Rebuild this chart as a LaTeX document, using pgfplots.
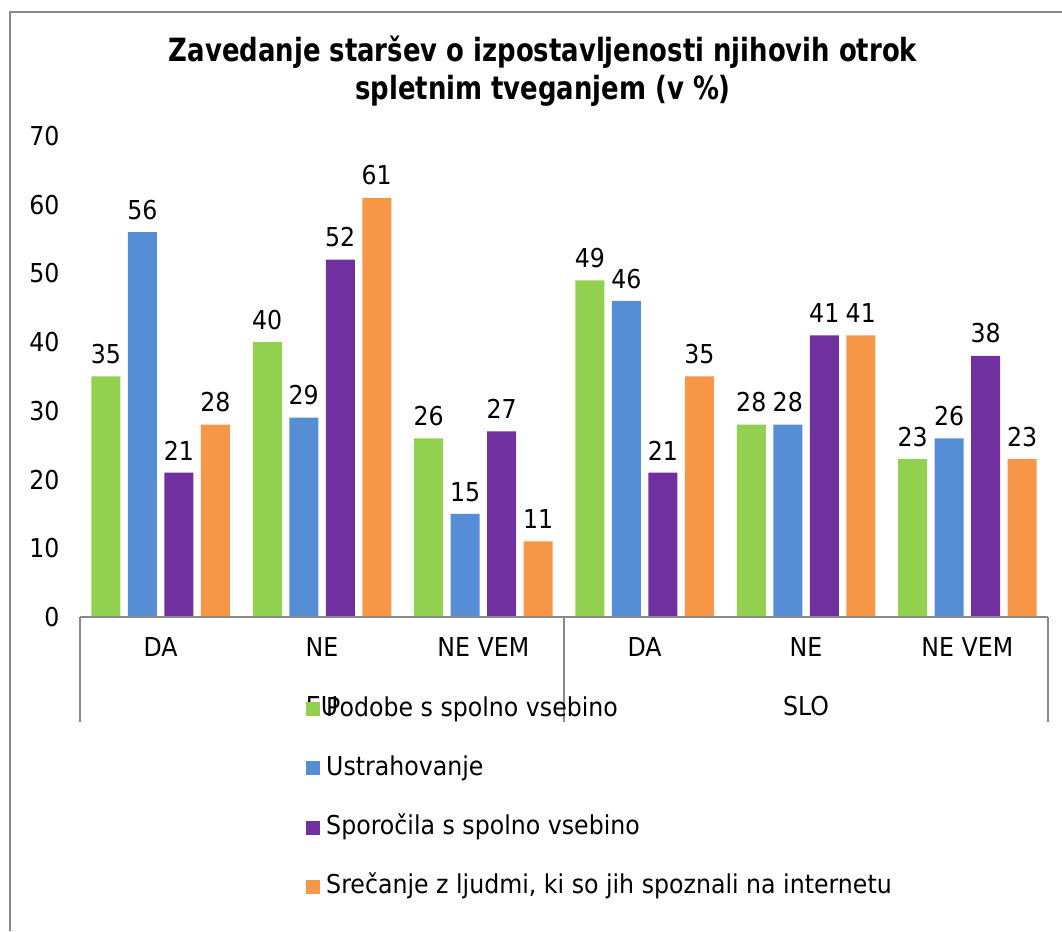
\documentclass[border=0pt]{standalone}
\usepackage{fontspec}
\setmainfont{DejaVu Sans}[FakeStretch=0.91]
\newfontfamily\titlefont{DejaVu Sans}[FakeStretch=0.81]
\usepackage{pgfplots}
\pgfplotsset{compat=1.18}
\definecolor{cgreen}{HTML}{92D050}
\definecolor{cblue}{HTML}{558ED5}
\definecolor{cpurple}{HTML}{7030A0}
\definecolor{corange}{HTML}{F79646}
\definecolor{axgray}{HTML}{898989}
\newcommand{\lf}{\fontsize{26}{31}\selectfont}
\begin{document}
\begin{tikzpicture}[x=1pt,y=1pt]
\useasboundingbox (0,0) rectangle (1062,931);
\draw[axgray, line width=1.3pt] (10,0) -- (10,919) -- (1062,919);
\node[anchor=base, font=\titlefont\fontsize{32}{38}\selectfont\bfseries, inner sep=0pt] at (543,869) {Zavedanje staršev o izpostavljenosti njihovih otrok};
\node[anchor=base, font=\titlefont\fontsize{32}{38}\selectfont\bfseries, inner sep=0pt] at (543,831) {spletnim tveganjem (v \%)};
\begin{axis}[
  at={(80pt,314pt)}, anchor=south west,
  scale only axis, width=968pt, height=481pt,
  xmin=-0.5, xmax=5.5, ymin=0, ymax=70,
  ytick={0,10,...,70},
  xtick={0,...,5},
  xticklabels={DA,NE,NE VEM,DA,NE,NE VEM},
  axis line style={draw=none},
  major tick length=0pt, tick style={draw=none},
  ybar=7.5pt, bar width=29pt,
  clip=false,
  /pgf/number format/assume math mode=true,
  ticklabel style={font=\lf},
  yticklabel style={xshift=-17pt},
  xticklabel style={yshift=-17pt},
  nodes near coords,
  every node near coord/.append style={font=\lf, black, yshift=9pt},
  legend style={at={(axis description cs:0.2335,-0.164)}, anchor=north west,
    draw=none, fill=none, inner sep=0pt, font=\lf,
    row sep=33.3pt,
    nodes={inner sep=0pt, text height=20pt, text depth=6pt},
    /tikz/every odd column/.append style={column sep=6pt}},
  legend cell align=left,
  legend image code/.code={\fill[#1] (0pt,-7pt) rectangle (14pt,7pt);},
]
\addplot[fill=cgreen, draw=none] coordinates {(0,35) (1,40) (2,26) (3,49) (4,28) (5,23)};
\addplot[fill=cblue, draw=none] coordinates {(0,56) (1,29) (2,15) (3,46) (4,28) (5,26)};
\addplot[fill=cpurple, draw=none] coordinates {(0,21) (1,52) (2,27) (3,21) (4,41) (5,38)};
\addplot[fill=corange, draw=none] coordinates {(0,28) (1,61) (2,11) (3,35) (4,41) (5,23)};
\legend{Podobe s spolno vsebino, Ustrahovanje, Sporočila s spolno vsebino, {Srečanje z ljudmi, ki so jih spoznali na internetu}}
\draw[axgray, line width=1.2pt] (axis cs:-0.5,0) -- (axis cs:5.5,0);
\draw[axgray, line width=1.2pt] (axis cs:-0.5,0) -- (axis cs:-0.5,-15.28);
\draw[axgray, line width=1.2pt] (axis cs:2.5,0) -- (axis cs:2.5,-15.28);
\draw[axgray, line width=1.2pt] (axis cs:5.5,0) -- (axis cs:5.5,-15.28);
\node[font=\lf, inner sep=0pt] at (axis cs:1,-12.95) {EU};
\node[font=\lf, inner sep=0pt] at (axis cs:4,-12.95) {SLO};
\end{axis}
\end{tikzpicture}
\end{document}
